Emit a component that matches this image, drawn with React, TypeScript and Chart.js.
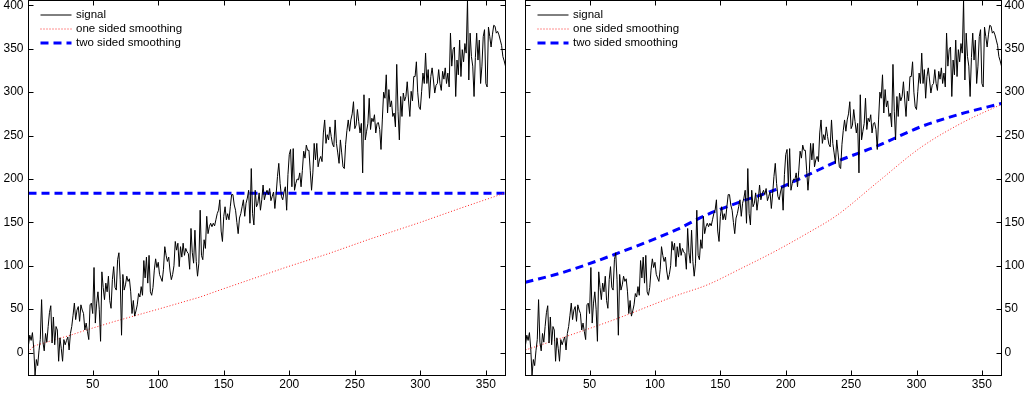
import React, { useEffect, useRef } from "react";
import { Chart, registerables } from "chart.js";

Chart.register(...registerables);

// Daily signal, days 1..365
const signal: number[] = [
  9, 20, 14, 23, 5, -26, -8, -15, 2, 15,
  61, 12, 2, 22, 12, 30, 46, 54, 11, 41,
  9, 30, 26, -10, 17, 5, -10, 15, 9, 14,
  18, 3, 22, 30, 43, 57, 38, 49, 53, 36,
  55, 49, 45, 26, 34, 24, 15, 55, 57, 45,
  98, 34, 57, 70, 50, 13, 93, 75, 61, 80,
  70, 88, 60, 51, 84, 99, 75, 72, 107, 115,
  84, 20, 90, 72, 78, 88, 82, 85, 70, 45,
  60, 42, 48, 55, 68, 64, 76, 66, 106, 86,
  110, 80, 112, 70, 66, 75, 95, 108, 98, 104,
  90, 86, 82, 96, 122, 112, 105, 110, 94, 84,
  90, 100, 128, 118, 126, 99, 122, 110, 126, 112,
  120, 116, 114, 96, 143, 115, 103, 141, 105, 88,
  103, 164, 112, 107, 130, 120, 157, 137, 145, 149,
  145, 149, 146, 153, 160, 164, 176, 140, 128, 157,
  168, 153, 160, 153, 168, 182, 182, 170, 164, 150,
  137, 155, 160, 168, 176, 157, 172, 178, 187, 149,
  212, 160, 147, 187, 168, 172, 184, 164, 176, 193,
  176, 183, 187, 182, 189, 175, 180, 185, 166, 183,
  203, 218, 195, 180, 176, 185, 191, 164, 205, 228,
  234, 191, 235, 187, 195, 200, 199, 207, 191, 210,
  232, 224, 239, 233, 233, 210, 187, 207, 241, 222,
  241, 214, 222, 226, 220, 253, 268, 241, 251, 245,
  260, 249, 240, 237, 268, 241, 230, 218, 245, 230,
  214, 212, 240, 256, 268, 255, 268, 275, 289, 258,
  262, 280, 266, 253, 264, 207, 297, 245, 255, 264,
  293, 257, 270, 266, 274, 253, 264, 265, 257, 234,
  268, 300, 293, 320, 276, 303, 283, 290, 272, 276,
  260, 332, 278, 245, 295, 272, 299, 290, 295, 312,
  291, 272, 301, 290, 318, 318, 335, 300, 283, 280,
  301, 322, 310, 345, 310, 326, 293, 318, 328, 314,
  299, 308, 310, 326, 310, 302, 324, 315, 328, 310,
  322, 306, 368, 330, 349, 352, 295, 337, 320, 360,
  318, 349, 335, 356, 345, 406, 314, 368, 341, 330,
  295, 340, 368, 337, 360, 310, 330, 364, 372, 310,
  306, 375, 364, 352, 366, 377, 376, 368, 370, 366,
  360, 354, 341, 336, 330,
];
const days = signal.map((_, i) => i + 1);

// Smoothing curves
const leftOneSidedDays = [1, 3, 6, 17, 33, 45, 67, 100, 132, 145, 197, 230, 260, 300, 330, 365];
const leftOneSidedValues = [0, 5, 8, 13, 20, 26, 36, 50, 64, 71, 98, 114, 130, 150, 166, 184];
const leftTwoSidedDays = [1, 365];
const leftTwoSidedValues = [183.6, 183.6];

const rightOneSidedDays = [1, 31, 69, 117, 140, 166, 191, 216, 239, 270, 303, 334, 365];
const rightOneSidedValues = [3, 18, 38, 66, 78, 97, 116, 137, 158, 196, 236, 264, 286];
const rightTwoSidedDays = [1, 31, 69, 117, 140, 166, 191, 216, 239, 270, 303, 334, 365];
const rightTwoSidedValues = [81, 93, 113, 142, 159, 174, 187, 204, 220, 238, 260, 275, 287];

const xTickValues = [50, 100, 150, 200, 250, 300, 350];
const yTickValues = [0, 50, 100, 150, 200, 250, 300, 350, 400];
const seriesLabels = ["signal", "one sided smoothing", "two sided smoothing"];

const X_MIN = 1;
const X_MAX = 365;
const Y_MIN = -26.4;
const Y_MAX = 405.6;

const FONT = '"Liberation Sans", Arial, Helvetica, sans-serif';
const W = 1026;
const H = 398;

function toPoints(xs: number[], ys: number[]) {
  return xs.map((x, i) => ({ x, y: ys[i] }));
}

const matlabAxesPlugin = {
  id: "matlabAxes",
  afterDraw(chart: any) {
    const { ctx, chartArea } = chart;
    const { left, right, top, bottom } = chartArea;
    const xs = chart.scales.x;
    const ys = chart.scales.y;
    ctx.save();
    ctx.setLineDash([]);
    ctx.strokeStyle = "#000";
    ctx.lineWidth = 1;
    ctx.strokeRect(left, top, right - left, bottom - top);
    const tl = 5;
    ctx.beginPath();
    xTickValues.forEach((v) => {
      const px = Math.round(xs.getPixelForValue(v)) + 0.5;
      ctx.moveTo(px, bottom);
      ctx.lineTo(px, bottom - tl);
      ctx.moveTo(px, top);
      ctx.lineTo(px, top + tl);
    });
    yTickValues.forEach((v) => {
      const py = Math.round(ys.getPixelForValue(v)) + 0.5;
      ctx.moveTo(left, py);
      ctx.lineTo(left + tl, py);
      ctx.moveTo(right, py);
      ctx.lineTo(right - tl, py);
    });
    ctx.stroke();

    // legend (no box)
    ctx.font = `11.5px ${FONT}`;
    ctx.textBaseline = "middle";
    ctx.textAlign = "left";
    chart.data.datasets.forEach((ds: any, i: number) => {
      const y = top + 14.5 + i * 14;
      ctx.save();
      ctx.strokeStyle = ds.borderColor;
      ctx.lineWidth = ds.borderWidth;
      ctx.setLineDash(ds.borderDash || []);
      ctx.beginPath();
      ctx.moveTo(left + 12, y);
      ctx.lineTo(left + 43, y);
      ctx.stroke();
      ctx.restore();
      ctx.fillStyle = "#000";
      ctx.fillText(ds.label, left + 47.5, y);
    });
    ctx.restore();
  },
};

type PanelProps = {
  side: "left" | "right";
  oneDays: number[];
  oneValues: number[];
  twoDays: number[];
  twoValues: number[];
  smoothCurves: boolean;
};

function Panel({ side, oneDays, oneValues, twoDays, twoValues, smoothCurves }: PanelProps) {
  const ref = useRef<HTMLCanvasElement | null>(null);
  useEffect(() => {
    if (!ref.current) return;
    const padding =
      side === "left"
        ? { left: 0, right: W - 505.5, top: 0.5, bottom: 0 }
        : { left: 525.5, right: 0, top: 0.5, bottom: 0 };
    const chart = new Chart(ref.current, {
      type: "line",
      data: {
        datasets: [
          {
            label: seriesLabels[0],
            data: toPoints(days, signal),
            borderColor: "#000000",
            borderWidth: 1,
            pointRadius: 0,
            tension: 0,
          },
          {
            label: seriesLabels[1],
            data: toPoints(oneDays, oneValues),
            borderColor: "#ff2020",
            borderWidth: 1,
            borderDash: [1, 2],
            pointRadius: 0,
            cubicInterpolationMode: smoothCurves ? "monotone" : "default",
            tension: 0,
          },
          {
            label: seriesLabels[2],
            data: toPoints(twoDays, twoValues),
            borderColor: "#0000ff",
            borderWidth: 3,
            borderDash: [8, 5],
            pointRadius: 0,
            cubicInterpolationMode: smoothCurves ? "monotone" : "default",
            tension: 0,
          },
        ],
      } as any,
      options: {
        animation: false,
        responsive: false,
        devicePixelRatio: 1,
        layout: { padding },
        plugins: { legend: { display: false }, tooltip: { enabled: false } },
        scales: {
          x: {
            type: "linear",
            position: "bottom",
            min: X_MIN,
            max: X_MAX,
            afterBuildTicks: (s: any) => {
              s.ticks = xTickValues.map((v) => ({ value: v }));
            },
            afterFit: (s: any) => {
              s.height = 22.5;
              s.paddingLeft = 0;
              s.paddingRight = 0;
            },
            ticks: {
              color: "#000",
              font: { family: FONT, size: 12 },
              padding: 2,
              maxRotation: 0,
              autoSkip: false,
              callback: (v: any) => String(v),
            },
            grid: { display: false, drawTicks: false },
            border: { display: false },
          },
          y: {
            type: "linear",
            position: side === "left" ? "left" : "right",
            min: Y_MIN,
            max: Y_MAX,
            afterBuildTicks: (s: any) => {
              s.ticks = yTickValues.map((v) => ({ value: v }));
            },
            afterFit: (s: any) => {
              s.width = side === "left" ? 28.5 : W - 1001.5;
              s.paddingTop = 0;
              s.paddingBottom = 0;
            },
            ticks: {
              color: "#000",
              font: { family: FONT, size: 12 },
              padding: side === "left" ? 5 : 3,
              autoSkip: false,
              callback: (v: any) => String(v),
            },
            grid: { display: false, drawTicks: false },
            border: { display: false },
          },
        },
      } as any,
      plugins: [matlabAxesPlugin],
    });
    return () => chart.destroy();
  }, [side, oneDays, oneValues, twoDays, twoValues, smoothCurves]);

  return (
    <canvas
      ref={ref}
      width={W}
      height={H}
      style={{ position: "absolute", left: 0, top: 0, width: W, height: H }}
    />
  );
}

export default function App() {
  return (
    <div
      style={{
        position: "absolute",
        left: 0,
        top: 0,
        width: W,
        height: H,
        background: "#fff",
        overflow: "hidden",
      }}
    >
      <Panel
        side="left"
        oneDays={leftOneSidedDays}
        oneValues={leftOneSidedValues}
        twoDays={leftTwoSidedDays}
        twoValues={leftTwoSidedValues}
        smoothCurves={false}
      />
      <Panel
        side="right"
        oneDays={rightOneSidedDays}
        oneValues={rightOneSidedValues}
        twoDays={rightTwoSidedDays}
        twoValues={rightTwoSidedValues}
        smoothCurves={true}
      />
    </div>
  );
}
